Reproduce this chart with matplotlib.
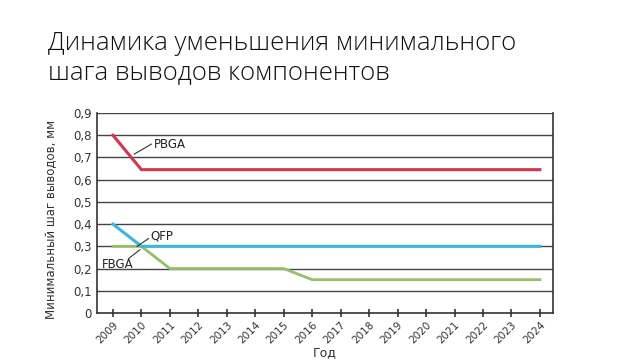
import matplotlib
matplotlib.use("Agg")
import matplotlib.pyplot as plt
from matplotlib.ticker import FuncFormatter

years_pbga = [2009, 2010, 2024]
pitch_pbga = [0.80, 0.645, 0.645]
years_qfp = [2009, 2010, 2024]
pitch_qfp = [0.40, 0.30, 0.30]
years_fbga = [2009, 2010, 2011, 2015, 2016, 2024]
pitch_fbga = [0.30, 0.30, 0.20, 0.20, 0.15, 0.15]
year_ticks = list(range(2009, 2025))

RED, BLUE, GREEN = "#d8334f", "#3bb6e0", "#97be6a"

plt.rcParams["font.family"] = ["DejaVu Sans"]
fig = plt.figure(figsize=(6.4, 3.6), dpi=100)
fig.text(0.075, 0.915, "Динамика уменьшения минимального\nшага выводов компонентов",
         fontsize=18.5, family="Open Sans", fontweight="light", va="top", ha="left",
         color="#111111", linespacing=1.22)

ax = fig.add_axes([97 / 640, 1 - 313 / 360, (553 - 97) / 640, 200 / 360])
for y in [i / 10 for i in range(1, 10)]:
    ax.axhline(y, color="#444444", lw=1.0, zorder=1)

ax.plot(years_pbga, pitch_pbga, color=RED, lw=2.2, zorder=3)
ax.plot(years_qfp, pitch_qfp, color=BLUE, lw=2.2, zorder=3)
ax.plot(years_fbga, pitch_fbga, color=GREEN, lw=2.0, zorder=2)

# series labels with short leader lines
ax.plot([2009.75, 2010.35], [0.715, 0.76], color="#333333", lw=0.8, zorder=4)
ax.text(2010.45, 0.76, "PBGA", fontsize=8.5, va="center", color="#222222")
ax.plot([2009.85, 2010.25], [0.30, 0.335], color="#333333", lw=0.8, zorder=4)
ax.text(2010.3, 0.345, "QFP", fontsize=8.5, va="center", color="#222222")
ax.plot([2009.55, 2009.95], [0.245, 0.285], color="#333333", lw=0.8, zorder=4)
ax.text(2008.6, 0.22, "FBGA", fontsize=8.5, va="center", color="#222222")

ax.set_xlim(2008.44, 2024.46)
ax.set_ylim(0, 0.9)
ax.set_yticks([i / 10 for i in range(10)])
ax.yaxis.set_major_formatter(FuncFormatter(lambda v, p: "0" if v == 0 else f"{v:.1f}".replace(".", ",")))
ax.set_xticks(year_ticks)
ax.set_xticklabels([str(y) for y in year_ticks], rotation=45, ha="right",
                   rotation_mode="anchor", fontsize=7.5, color="#333333")
ax.tick_params(axis="y", length=0, labelsize=8.5, labelcolor="#333333", pad=4)
ax.tick_params(axis="x", direction="inout", length=6, width=1.2, color="#333333", pad=2)
for s in ["left", "bottom", "right"]:
    ax.spines[s].set_color("#333333")
    ax.spines[s].set_linewidth(1.2)
ax.spines["top"].set_visible(False)
ax.set_ylabel("Минимальный шаг выводов, мм", fontsize=8.5, color="#333333")
ax.yaxis.set_label_coords(-0.085, 0.47)
ax.set_xlabel("Год", fontsize=9, color="#333333")
ax.xaxis.set_label_coords(0.5, -0.165)

fig.savefig("out.png", dpi=100)
